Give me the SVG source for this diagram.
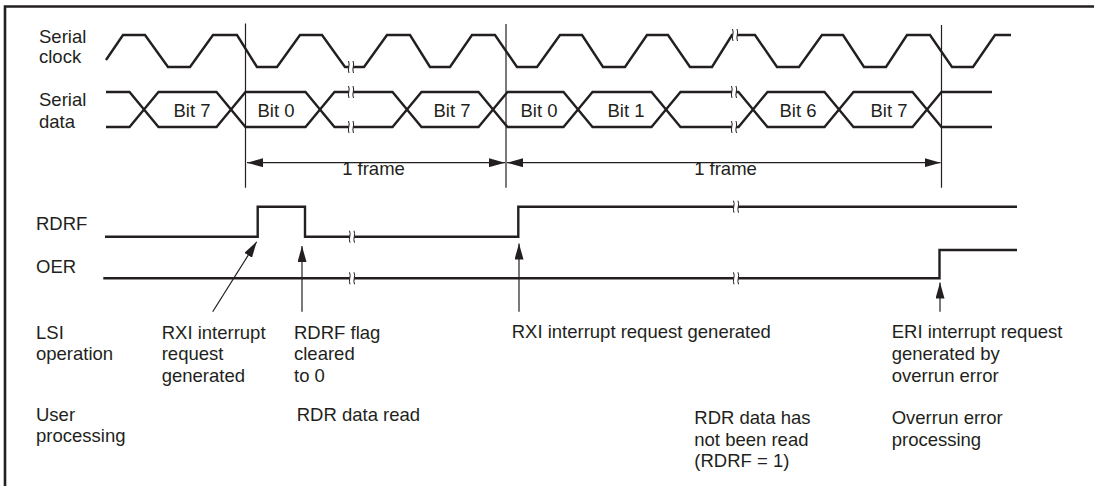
<svg xmlns="http://www.w3.org/2000/svg" width="1094" height="486" viewBox="0 0 1094 486">
<style>
text{font-family:"Liberation Sans",Arial,sans-serif;font-size:18.5px;fill:#231f20}
.sig{fill:none;stroke:#231f20;stroke-width:2.4;stroke-linejoin:miter}
.thin{fill:none;stroke:#231f20;stroke-width:1.2}
.mid{text-anchor:middle}
</style>
<defs>
<marker id="ah" viewBox="0 0 16 9" refX="16" refY="4.5" markerWidth="16" markerHeight="9" markerUnits="userSpaceOnUse" orient="auto-start-reverse">
<path d="M0,0 L16,4.5 L0,9 Z" fill="#231f20"/>
</marker>
<g id="brk">
<path d="M-3.5,-6 C-1.5,-2 -5,2 -3,6 L1.5,6 C-0.5,2 3,-2 1,-6 Z" fill="#fff"/>
<path d="M-3.5,-6 C-1.5,-2 -5,2 -3,6 M1,-6 C3,-2 -0.5,2 1.5,6" fill="none" stroke="#231f20" stroke-width="1"/>
</g>
</defs>
<path d="M5,486 V6.5 H1094" fill="none" stroke="#231f20" stroke-width="2.6"/>

<g id="labels">
<text x="39" y="43">Serial</text><text x="39" y="63">clock</text>
<text x="39" y="106">Serial</text><text x="39" y="128">data</text>
<text x="36" y="230">RDRF</text>
<text x="36" y="273">OER</text>
</g>

<g id="clock">
<path class="sig" d="M106,60 L123,35 H145 L168,67 H190 L213,35 H237 L257,67 H277 L300,35 H322 L345,67 H364 L387,35 H410 L430,67 H450 L472,35 H495 L517,67 H537 L560,35 H582 L603,67 H625 L647,35 H668 L690,67 H712 L732,35 H755 L777,67 H799 L822,35 H843 L864,67 H886 L907,35 H930 L952,67 H973 L995,35 H1011"/>
<use href="#brk" x="352" y="67"/>
<use href="#brk" x="736" y="35"/>
</g>

<g id="data">
<path class="sig" d="M106,92 H129.5 L144,109.5 M106,127 H129.5 L144,109.5"/>
<path class="sig" d="M144,109.5 L158.5,92 H216.5 L231,109.5 L216.5,127 H158.5 Z"/>
<path class="sig" d="M231,109.5 L245.5,92 H305.5 L320,109.5 L305.5,127 H245.5 Z"/>
<path class="sig" d="M320,109.5 L334.5,92 H392.5 L407,109.5 L392.5,127 H334.5 Z"/>
<path class="sig" d="M407,109.5 L421.5,92 H478.5 L493,109.5 L478.5,127 H421.5 Z"/>
<path class="sig" d="M493,109.5 L507.5,92 H563.5 L578,109.5 L563.5,127 H507.5 Z"/>
<path class="sig" d="M578,109.5 L592.5,92 H651.5 L666,109.5 L651.5,127 H592.5 Z"/>
<path class="sig" d="M666,109.5 L680.5,92 H738.5 L753,109.5 L738.5,127 H680.5 Z"/>
<path class="sig" d="M753,109.5 L767.5,92 H824.5 L839,109.5 L824.5,127 H767.5 Z"/>
<path class="sig" d="M839,109.5 L853.5,92 H912.5 L927,109.5 L912.5,127 H853.5 Z"/>
<path class="sig" d="M927,109.5 L941.5,92 H992 M927,109.5 L941.5,127 H992"/>
<use href="#brk" x="352" y="92"/><use href="#brk" x="352" y="127"/>
<use href="#brk" x="735" y="92"/><use href="#brk" x="735" y="127"/>
<text class="mid" x="192" y="117">Bit 7</text>
<text class="mid" x="276" y="117">Bit 0</text>
<text class="mid" x="452" y="117">Bit 7</text>
<text class="mid" x="539" y="117">Bit 0</text>
<text class="mid" x="626" y="117">Bit 1</text>
<text class="mid" x="798" y="117">Bit 6</text>
<text class="mid" x="889" y="117">Bit 7</text>
</g>

<g id="rdrf">
<path class="sig" d="M105,236.7 H257.7 V206.7 H305 V236.7 H518.3 V206.7 H1017"/>
<use href="#brk" x="353" y="236.7"/>
<use href="#brk" x="737" y="206.7"/>
</g>

<g id="oer">
<path class="sig" d="M103.3,278.3 H939.5 V250 H1017"/>
<use href="#brk" x="353" y="278.3"/>
<use href="#brk" x="737" y="278.3"/>
</g>

<g id="connectors">
<path class="thin" d="M245.5,23.5 V187.7 M506,24 V187.7 M941.5,25 V187.7"/>
<line class="thin" x1="247" y1="162.7" x2="505" y2="162.7" marker-start="url(#ah)" marker-end="url(#ah)"/>
<line class="thin" x1="507" y1="162.7" x2="940.5" y2="162.7" marker-start="url(#ah)" marker-end="url(#ah)"/>
<line class="thin" x1="212.7" y1="311.7" x2="256.7" y2="241.7" marker-end="url(#ah)"/>
<line class="thin" x1="302" y1="311.7" x2="302" y2="246" marker-end="url(#ah)"/>
<line class="thin" x1="519" y1="311.7" x2="519" y2="243.5" marker-end="url(#ah)"/>
<line class="thin" x1="940" y1="311.7" x2="940" y2="282.5" marker-end="url(#ah)"/>
</g>

<g id="frame-labels">
<text class="mid" x="373.5" y="175">1 frame</text>
<text class="mid" x="725.5" y="175">1 frame</text>
</g>

<g id="lsi">
<text x="36" y="338.5">LSI</text><text x="36" y="360">operation</text>
<text x="161.7" y="338.5">RXI interrupt</text><text x="161.7" y="360">request</text><text x="161.7" y="381.5">generated</text>
<text x="294" y="338.5">RDRF flag</text><text x="294" y="360">cleared</text><text x="294" y="381.5">to 0</text>
<text x="511.7" y="338">RXI interrupt request generated</text>
<text x="891.7" y="337.5">ERI interrupt request</text><text x="891.7" y="360">generated by</text><text x="891.7" y="381.5">overrun error</text>
</g>

<g id="user">
<text x="36" y="421">User</text><text x="36" y="442">processing</text>
<text x="296.7" y="421">RDR data read</text>
<text x="694.3" y="424">RDR data has</text><text x="694.3" y="446">not been read</text><text x="694.3" y="467">(RDRF = 1)</text>
<text x="891.7" y="424">Overrun error</text><text x="891.7" y="446">processing</text>
</g>
</svg>
